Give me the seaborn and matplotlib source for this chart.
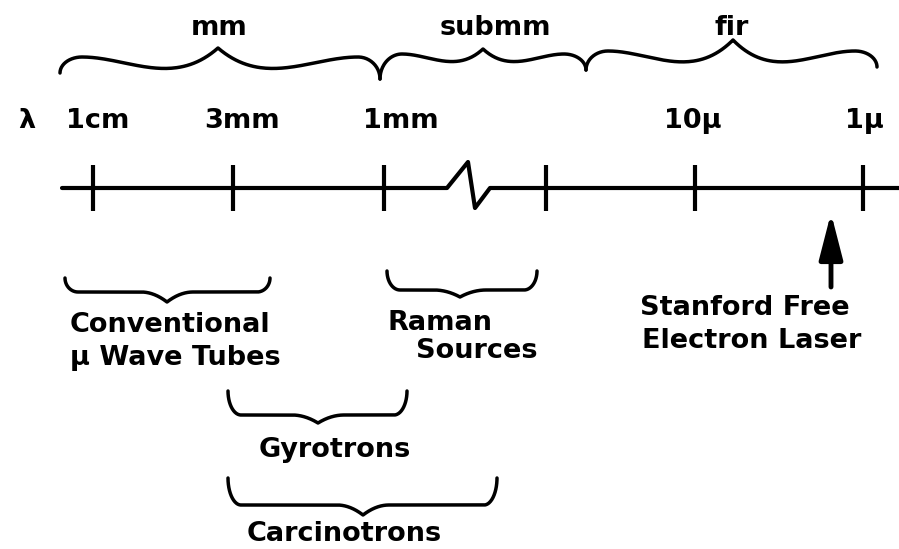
import numpy as np
import pandas as pd
import matplotlib
matplotlib.use("Agg")
import matplotlib.pyplot as plt
import seaborn as sns

# Wavelength scale (diagram x units) and labels
tick_labels = ["1cm", "3mm", "1mm", "", "10μ", "1μ"]
tick_x = [93, 233, 384, 546, 695, 863]
label_x = [98, 242, 401, None, 693, 864]

# Band ranges above the axis: start, end, cusp
band_names = ["mm", "submm", "fir"]
band_start = [60, 380, 586]
band_end = [380, 586, 877]
band_cusp = [218, 483, 733]
band_text_x = [219, 495, 732]

# Source ranges below the axis
source_names = ["Conventional\nμ Wave Tubes", "Raman\nSources", "Gyrotrons", "Carcinotrons"]
source_start = [65, 387, 228, 228]
source_end = [270, 537, 407, 497]
source_cusp = [167, 460, 318, 363]

fel_x = 831   # Stanford FEL arrow position

sns.set_theme(style="white")
plt.rcParams['font.family'] = ['DejaVu Sans']


def brace(x0, x1, xm, yf, dl, dr, c, m, r, rc, sgn):
    # curly brace: hooks at both ends, flat, hermite curve up to a pointed cusp at xm
    th = np.linspace(0, np.pi / 2, 40)
    s = np.linspace(0, 1, 80)
    h = -c * (3 * s ** 2 - 2 * s ** 3) + m * (s ** 2 - s ** 3)
    xa, xd = x0 + r, x1 - r
    lb = min(rc, xm - xa)
    rb = min(rc, xd - xm)
    xs = np.concatenate([
        x0 + r - r * np.cos(th),
        xm - lb + lb * s,
        xm + rb * s,
        x1 - r + r * np.sin(th),
    ])
    ys = np.concatenate([
        yf + sgn * dl * (1 - np.sin(th)),
        yf + sgn * h,
        yf + sgn * h[::-1],
        yf + sgn * dr * (1 - np.cos(th)),
    ])
    return xs, ys


fig = plt.figure(figsize=(8.99, 5.49), dpi=100)
ax = fig.add_axes([0, 0, 1, 1])

rows = []
top_yf = [57, 54, 51]
top_dl = [16, 25, 19]
top_dr = [22, 16, 16]
top_c = [9, 5, 11]
top_m = [120, 75, 125]
for i in range(3):
    xs, ys = brace(band_start[i], band_end[i], band_cusp[i], top_yf[i], top_dl[i], top_dr[i],
                   top_c[i], top_m[i], 22, 1000, 1)
    rows.append(pd.DataFrame({"x": xs, "y": ys, "g": "top%d" % i}))

bot_yf = [292, 290, 415, 505]
bot_d = [14, 19, 24, 27]
bot_c = [10, 7, 8, 10]
for i in range(4):
    xs, ys = brace(source_start[i], source_end[i], source_cusp[i], bot_yf[i], bot_d[i], bot_d[i],
                   bot_c[i], 2 * bot_c[i], 13, 26, -1)
    rows.append(pd.DataFrame({"x": xs, "y": ys, "g": "bot%d" % i}))
braces = pd.concat(rows, ignore_index=True)

sns.lineplot(data=braces, x="x", y="y", units="g", estimator=None, sort=False,
             color="black", lw=2.5, ax=ax, legend=False)

# main axis with break
axis_df = pd.DataFrame({"x": [62, 447, 468, 475, 490, 899],
                        "y": [188, 188, 162, 208, 188, 188]})
sns.lineplot(data=axis_df, x="x", y="y", estimator=None, sort=False,
             color="black", lw=3.0, ax=ax)
ax.vlines(tick_x, 165, 211, color="black", lw=3.0)

fs = 19.5
kw = dict(fontsize=fs, fontweight="bold", color="black")
ax.text(27, 128, "λ", ha="center", va="baseline", **kw)
for lx, lab in zip(label_x, tick_labels):
    if lab:
        ax.text(lx, 128, lab, ha="center", va="baseline", **kw)

for tx, name in zip(band_text_x, band_names):
    ax.text(tx, 35, name, ha="center", va="baseline", **kw)

ax.text(70, 332, "Conventional", ha="left", va="baseline", **kw)
ax.text(70, 365, "μ Wave Tubes", ha="left", va="baseline", **kw)
ax.text(387, 330, "Raman", ha="left", va="baseline", **kw)
ax.text(537, 358, "Sources", ha="right", va="baseline", **kw)
ax.text(335, 457, "Gyrotrons", ha="center", va="baseline", **kw)
ax.text(344, 541, "Carcinotrons", ha="center", va="baseline", **kw)
ax.text(640, 315, "Stanford Free", ha="left", va="baseline", **kw)
ax.text(642, 348, "Electron Laser", ha="left", va="baseline", **kw)

ax.annotate("", xy=(fel_x, 213), xytext=(fel_x, 287),
            arrowprops=dict(arrowstyle="-|>,head_length=1.4,head_width=0.36",
                            lw=3.5, color="black", mutation_scale=20,
                            shrinkA=0, shrinkB=0))

ax.set_xlim(0, 899)
ax.set_ylim(549, 0)
ax.axis("off")

fig.savefig("out.png", dpi=100)
